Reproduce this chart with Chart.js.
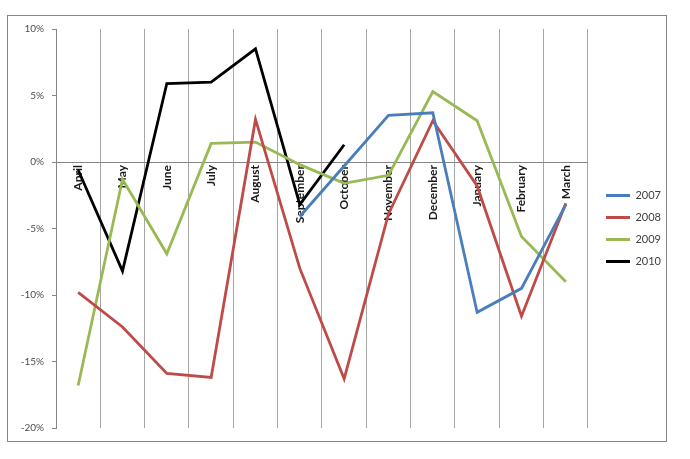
<!DOCTYPE html>
<html>
<head>
<meta charset="utf-8">
<script src="https://cdn.jsdelivr.net/npm/chart.js@4.4.1/dist/chart.umd.min.js"></script>
<style>
  html, body { margin: 0; padding: 0; background: #ffffff; }
  #wrap { position: relative; width: 690px; height: 459px; }
  #frame { position: absolute; left: 7px; top: 15px; width: 660px; height: 427px; border: 1px solid #868686; box-sizing: border-box; }
  canvas { position: absolute; left: 0; top: 0; }
</style>
</head>
<body>
<div id="wrap">
  <div id="frame"></div>
  <canvas id="c" width="690" height="459"></canvas>
</div>
<script>
const months = ['April','May','June','July','August','September','October','November','December','January','February','March'];
const series2007 = [null, null, null, null, null, -4.1, -0.3, 3.5, 3.7, -11.3, -9.5, -3.2];
const series2008 = [-9.8, -12.4, -15.9, -16.2, 3.2, -8.0, -16.3, -3.9, 3.1, -1.8, -11.6, -3.1];
const series2009 = [-16.8, -1.3, -6.9, 1.4, 1.5, -0.2, -1.6, -1.0, 5.3, 3.1, -5.6, -9.0];
const series2010 = [-0.6, -8.2, 5.9, 6.0, 8.5, -3.2, 1.3, null, null, null, null, null];
const seriesNames = ['2007', '2008', '2009', '2010'];
const yTicks = { min: -20, max: 10, step: 5 };

const colors = ['#4a7ebb', '#be4b48', '#98b954', '#000000'];
const allSeries = [series2007, series2008, series2009, series2010];

const datasets = allSeries.map((d, i) => ({
  label: seriesNames[i],
  data: d,
  borderColor: colors[i],
  backgroundColor: colors[i],
  borderWidth: 2.8,
  pointRadius: 0,
  pointHoverRadius: 0,
  tension: 0,
  fill: false,
  spanGaps: false
}));

const shiftLegend = {
  id: 'shiftLegend',
  afterLayout(chart) {
    const lg = chart.legend;
    if (lg) { lg.left += 7; lg.right += 7; }
  }
};

new Chart(document.getElementById('c'), {
  type: 'line',
  data: { labels: months, datasets },
  plugins: [shiftLegend],
  options: {
    responsive: false,
    animation: false,
    devicePixelRatio: 1,
    layout: { padding: { left: 10, top: 29, bottom: 31, right: 26 } },
    plugins: {
      tooltip: { enabled: false },
      legend: {
        position: 'right',
        align: 'center',
        labels: {
          boxWidth: 24,
          boxHeight: 3,
          padding: 11,
          color: '#404040',
          font: { family: 'Lato', size: 11 },
          generateLabels(chart) {
            return chart.data.datasets.map((ds, i) => ({
              text: ds.label,
              fillStyle: ds.borderColor,
              strokeStyle: ds.borderColor,
              lineWidth: 0,
              hidden: false,
              datasetIndex: i,
              fontColor: '#404040'
            }));
          }
        }
      }
    },
    scales: {
      x: {
        type: 'category',
        position: { y: 0 },
        offset: true,
        grid: { display: true, offset: true, drawOnChartArea: true, drawTicks: false, color: '#a6a6a6', lineWidth: 1 },
        border: { display: true, color: '#868686', width: 1 },
        ticks: {
          autoSkip: false,
          minRotation: 90,
          maxRotation: 90,
          padding: 3,
          color: '#1a1a1a',
          font: { family: 'Lato', size: 12, weight: 'bold' }
        }
      },
      y: {
        position: 'left',
        min: yTicks.min,
        max: yTicks.max,
        afterFit(scale) { scale.width = 46; },
        grid: { display: true, drawOnChartArea: false, drawTicks: true, tickLength: 4, color: '#868686' },
        border: { display: true, color: '#868686', width: 1 },
        ticks: {
          stepSize: yTicks.step,
          padding: 8,
          color: '#4d4d4d',
          font: { family: 'Lato', size: 10 },
          callback: v => v + '%'
        }
      }
    }
  }
});
</script>
</body>
</html>
